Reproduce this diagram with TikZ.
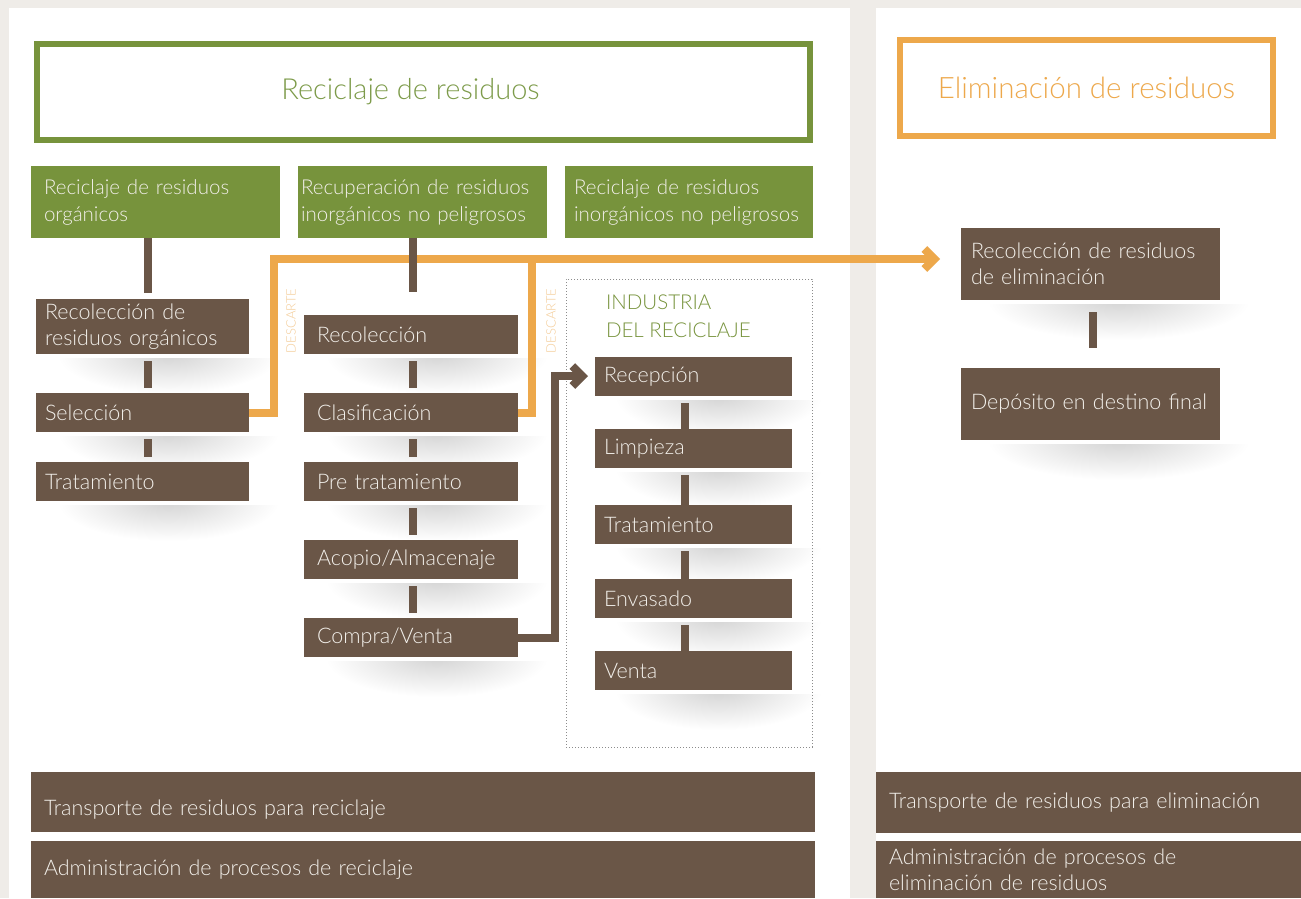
\documentclass[tikz,border=0pt]{standalone}
\usepackage{fontspec}
\setmainfont{Lato Light}
\usetikzlibrary{arrows.meta,calc}

\definecolor{leafgreen}{HTML}{77933C}
\definecolor{titlegreen}{HTML}{7D9B4A}
\definecolor{amber}{HTML}{EDA84B}
\definecolor{paleamber}{HTML}{F4CB95}
\definecolor{bark}{HTML}{6A5647}
\definecolor{paper}{HTML}{EFECE8}
\definecolor{chalk}{HTML}{F2EFEA}

\pgfdeclarelayer{back}
\pgfdeclarelayer{shade}
\pgfsetlayers{back,shade,main}

\tikzset{
  every node/.style={anchor=north west, inner ysep=0pt, outer sep=0pt},
  headbox/.style={fill=leafgreen, text=chalk, align=left, inner xsep=13pt,
    minimum height=72pt, font=\fontsize{20.5}{27}\selectfont},
  stepbox/.style={fill=bark, text=chalk, align=left, inner xsep=9pt,
    minimum height=39pt, font=\fontsize{21.5}{26}\selectfont},
  link/.style={draw=bark, line width=8pt},
  discard/.style={draw=amber, line width=8pt},
  feed/.style={draw=bark, line width=8pt},
  tag/.style={text=paleamber, anchor=center, rotate=90, font=\fontsize{13}{14}\selectfont},
  shadowband/.style={inner color=black!17, outer color=white},
  barb/.style={-{Straight Barb[length=10pt,width=20pt]}}
}

\begin{document}
\begin{tikzpicture}[x=1pt,y=-1pt]
  \useasboundingbox (0,0) rectangle (1301,898);

  \begin{pgfonlayer}{back}
    \fill[paper] (0,0) rectangle (1301,898);
    \fill[white] (9,8) rectangle (850,898);
    \fill[white] (876,8) rectangle (1301,898);
  \end{pgfonlayer}

  % titles
  \node[draw=leafgreen, line width=6pt, minimum width=773pt, minimum height=96pt,
    text=titlegreen, font=\fontsize{29}{32}\selectfont] (rectitle) at (37,44) {\hspace*{-26pt}Reciclaje de residuos};
  \node[draw=amber, line width=5.5pt, minimum width=373pt, minimum height=96pt,
    text=amber, font=\fontsize{29.5}{32}\selectfont] (elimtitle) at (900,40) {Eliminación de residuos};

  % green headers
  \node[headbox, text width=223pt] (horg) at (31,166) {Reciclaje de residuos\\orgánicos};
  \node[headbox, text width=243pt, inner xsep=3pt] (hrec) at (298,166) {Recuperación de residuos\\inorgánicos no peligrosos};
  \node[headbox, text width=230pt, inner xsep=9pt] (hinorg) at (565,166) {Reciclaje de residuos\\inorgánicos no peligrosos};

  % organic column
  \node[stepbox, text width=195pt, minimum height=55pt] (recorg) at (36,299) {Recolección de\\residuos orgánicos};
  \node[stepbox, text width=195pt] (sel) at (36,393) {Selección};
  \node[stepbox, text width=195pt] (trat) at (36,462) {Tratamiento};

  % inorganic column
  \node[stepbox, text width=188pt, inner xsep=13pt] (recol) at (304,315) {Recolección};
  \node[stepbox, text width=188pt, inner xsep=13pt] (clas) at (304,393) {Clasificación};
  \node[stepbox, text width=188pt, inner xsep=13pt] (pretrat) at (304,462) {Pre tratamiento};
  \node[stepbox, text width=188pt, inner xsep=13pt] (acopio) at (304,540) {Acopio/Almacenaje};
  \node[stepbox, text width=188pt, inner xsep=13pt] (compra) at (304,618) {Compra/Venta};

  % recycling industry
  \node[draw=black!45, dotted, line width=1pt, minimum width=246pt, minimum height=468pt] (indbox) at (566,279) {};
  \node[text=leafgreen, align=left, inner xsep=0pt, font=\fontsize{20.5}{28}\selectfont] (indlabel) at (606,295) {INDUSTRIA\\DEL RECICLAJE};
  \node[stepbox, text width=179pt] (recep) at (595,357) {Recepción};
  \node[stepbox, text width=179pt] (limp) at (595,429) {Limpieza};
  \node[stepbox, text width=179pt] (tratind) at (595,505) {Tratamiento};
  \node[stepbox, text width=179pt] (envas) at (595,579) {Envasado};
  \node[stepbox, text width=179pt] (venta) at (595,651) {Venta};

  % disposal column
  \node[stepbox, text width=239pt, inner xsep=10pt, minimum height=72pt] (recelim) at (961,228) {Recolección de residuos\\de eliminación};
  \node[stepbox, text width=239pt, inner xsep=10pt, minimum height=72pt] (deposito) at (961,368) {Depósito en destino final};

  % bottom bars
  \node[stepbox, text width=758pt, inner xsep=13pt, minimum height=60pt, text height=31pt, text depth=4pt] (transrec) at (31,772) {Transporte de residuos para reciclaje};
  \node[stepbox, text width=758pt, inner xsep=13pt, minimum height=57pt] (adminrec) at (31,841) {Administración de procesos de reciclaje};
  \node[stepbox, text width=399pt, inner xsep=13pt, minimum height=61pt] (transelim) at (876,772) {Transporte de residuos para eliminación};
  \node[stepbox, text width=399pt, inner xsep=13pt, minimum height=57pt] (adminelim) at (876,841) {Administración de procesos de\\eliminación de residuos};

  % discard lines
  \coordinate (dleft) at (274,259);
  \coordinate (dright) at (532,259);
  \draw[discard, barb, shorten >=21pt] (sel.east) -| (dleft) -- (dleft -| recelim.west);
  \draw[discard] (clas.east) -| (dright);
  \node[tag] (tagleft) at (291,321) {DESCARTE};
  \node[tag] (tagright) at (551,321) {DESCARTE};

  % feed into industry
  \coordinate (fturn) at (555,376);
  \draw[feed, barb, shorten >=7pt] (compra.east) -| (fturn) -- (fturn -| recep.west);

  % column links
  \coordinate (c1) at (148,0);
  \coordinate (c2) at (413,0);
  \coordinate (c3) at (685,0);
  \coordinate (c4) at (1093,0);
  \draw[link, shorten >=6pt] (c1 |- horg.south) -- (c1 |- recorg.north);
  \foreach \a/\b in {recorg/sel, sel/trat}
    \draw[link, shorten <=7pt, shorten >=5pt] (c1 |- \a.south) -- (c1 |- \b.north);
  \draw[link, shorten >=23pt] (c2 |- hrec.south) -- (c2 |- recol.north);
  \foreach \a/\b in {recol/clas, clas/pretrat, pretrat/acopio, acopio/compra}
    \draw[link, shorten <=7pt, shorten >=5pt] (c2 |- \a.south) -- (c2 |- \b.north);
  \foreach \a/\b in {recep/limp, limp/tratind, tratind/envas, envas/venta}
    \draw[link, shorten <=7pt] (c3 |- \a.south) -- (c3 |- \b.north);
  \draw[link, shorten <=12pt, shorten >=20pt] (c4 |- recelim.south) -- (c4 |- deposito.north);

  % soft shadows
  \begin{pgfonlayer}{shade}
    \foreach \n in {recorg,sel,trat,recol,clas,pretrat,acopio,compra,recep,limp,tratind,envas,venta,recelim,deposito}{
      \begin{scope}
        \clip ([yshift=-4pt]\n.south west) rectangle ([xshift=30pt,yshift=-45pt]\n.south east);
        \shade[shadowband] ([yshift=40pt]$(\n.south west)!0.1!(\n.south east)$)
          rectangle ([xshift=30pt,yshift=-40pt]\n.south east);
      \end{scope}
    }
  \end{pgfonlayer}
\end{tikzpicture}
\end{document}
